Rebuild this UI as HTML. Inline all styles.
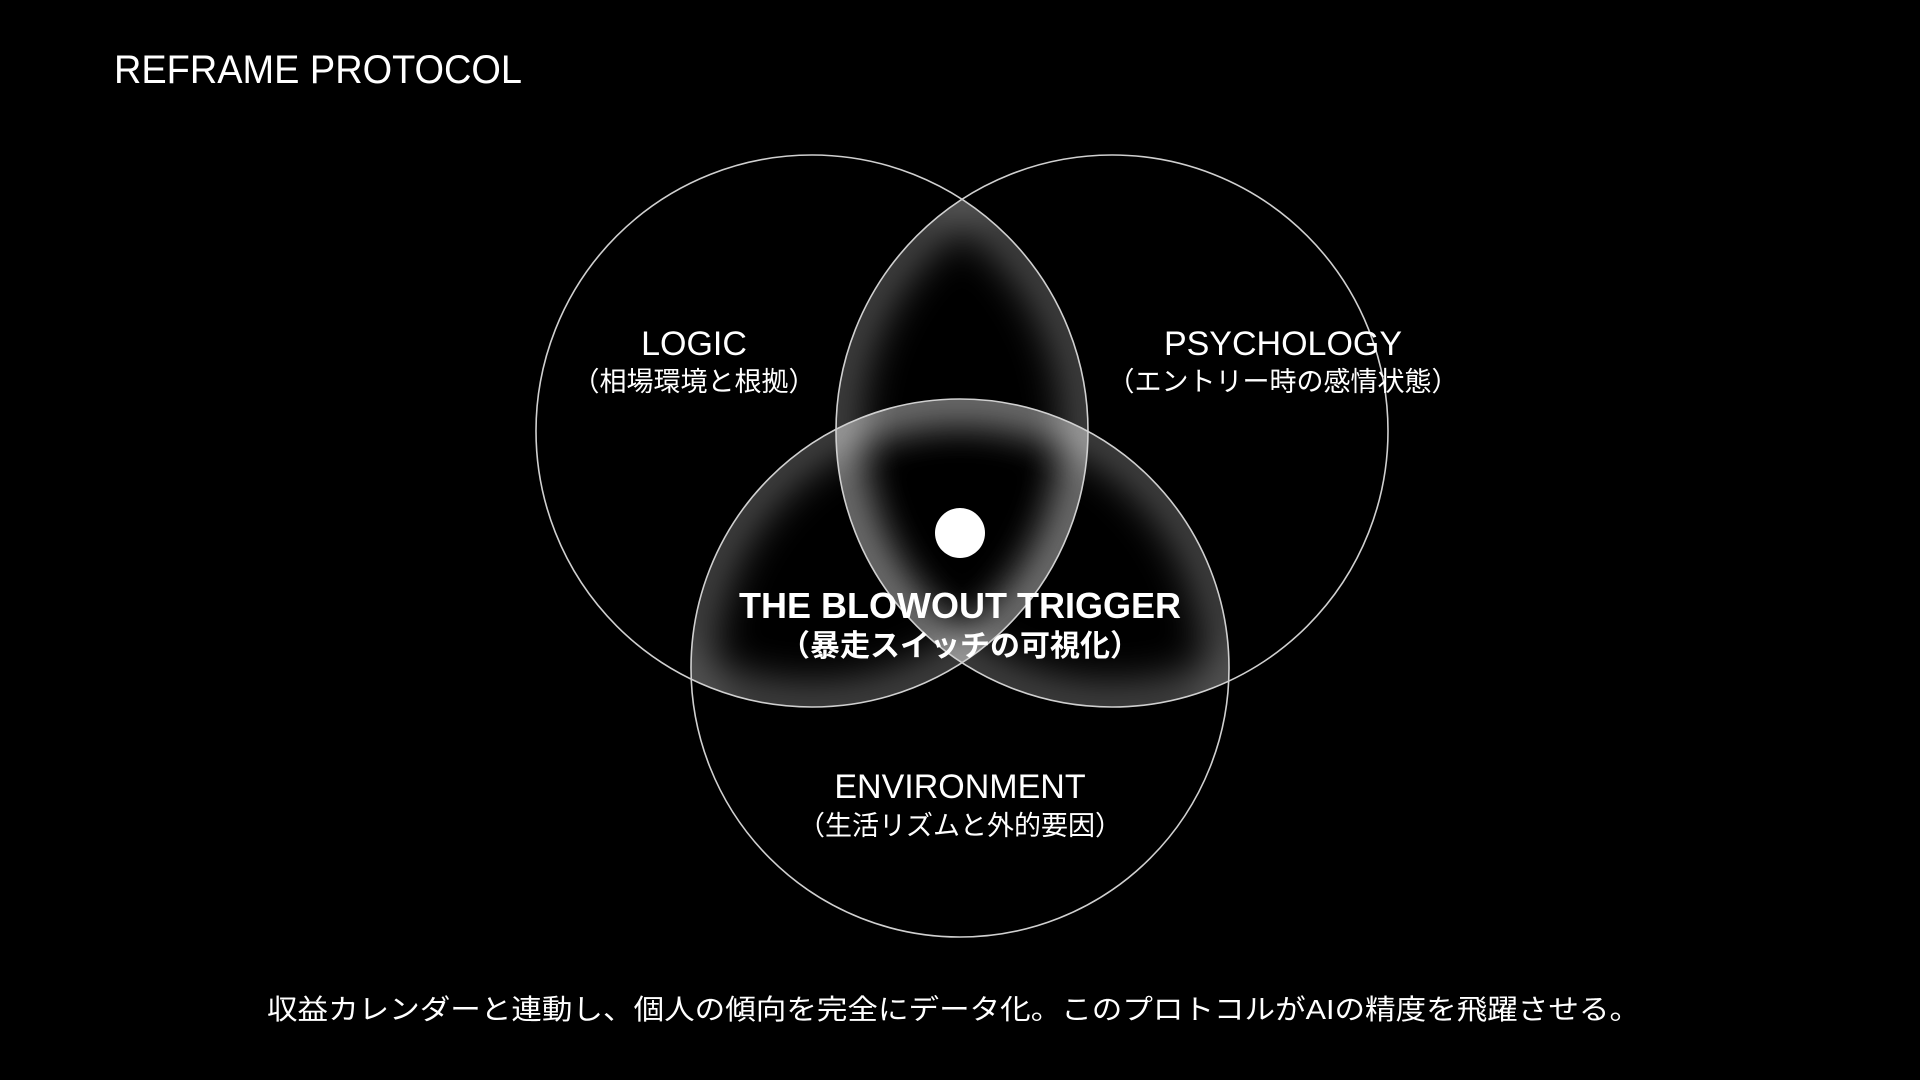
<!DOCTYPE html>
<html><head><meta charset="utf-8"><style>
html,body{margin:0;padding:0;background:#000;}
body{width:1920px;height:1080px;overflow:hidden;}
svg{display:block;}
text{fill:#fff;}
.l{font-family:"Liberation Sans","Noto Sans CJK JP",sans-serif;}
</style></head><body>
<svg width="1920" height="1080" viewBox="0 0 1920 1080" xmlns="http://www.w3.org/2000/svg">
<defs>
<clipPath id="cA"><circle cx="812" cy="431" r="276"/></clipPath>
<clipPath id="cB"><circle cx="1112" cy="431" r="276"/></clipPath>
<clipPath id="cC"><circle cx="960" cy="668" r="269"/></clipPath>
<filter id="bl" x="-20%" y="-20%" width="140%" height="140%"><feGaussianBlur stdDeviation="22"/></filter>
</defs>
<rect width="1920" height="1080" fill="#000"/>
<g clip-path="url(#cA)"><g clip-path="url(#cB)">
<g filter="url(#bl)" fill="none" stroke="#fff" stroke-width="34" opacity="0.38">
<circle cx="812" cy="431" r="276"/><circle cx="1112" cy="431" r="276"/></g></g></g>
<g clip-path="url(#cA)"><g clip-path="url(#cC)">
<g filter="url(#bl)" fill="none" stroke="#fff" stroke-width="34" opacity="0.38">
<circle cx="812" cy="431" r="276"/><circle cx="960" cy="668" r="269"/></g></g></g>
<g clip-path="url(#cB)"><g clip-path="url(#cC)">
<g filter="url(#bl)" fill="none" stroke="#fff" stroke-width="34" opacity="0.38">
<circle cx="1112" cy="431" r="276"/><circle cx="960" cy="668" r="269"/></g></g></g>
<g fill="none" stroke="#d0d0d0" stroke-width="1.6">
<circle cx="812" cy="431" r="276"/>
<circle cx="1112" cy="431" r="276"/>
<circle cx="960" cy="668" r="269"/>
</g>
<circle cx="960" cy="533" r="25" fill="#fff"/>
<text class="l" x="114" y="83" font-size="40" textLength="408" lengthAdjust="spacingAndGlyphs">REFRAME PROTOCOL</text>
<g class="l" text-anchor="middle">
<text x="694" y="355" font-size="34">LOGIC</text>
<text x="694" y="391" font-size="27" fill="#e6e6e6">（相場環境と根拠）</text>
<text x="1283" y="355" font-size="34">PSYCHOLOGY</text>
<text x="1283" y="391" font-size="27" fill="#e6e6e6">（エントリー時の感情状態）</text>
<text x="960" y="798" font-size="34">ENVIRONMENT</text>
<text x="960" y="835" font-size="27" fill="#e6e6e6">（生活リズムと外的要因）</text>
<text x="960" y="618" font-size="36" font-weight="bold">THE BLOWOUT TRIGGER</text>
<text x="960" y="656" font-size="30" font-weight="bold">（暴走スイッチの可視化）</text>
</g>
<text class="l" x="267" y="1019" font-size="28" textLength="1373" lengthAdjust="spacingAndGlyphs">収益カレンダーと連動し、個人の傾向を完全にデータ化。このプロトコルがAIの精度を飛躍させる。</text>
</svg>
</body></html>
